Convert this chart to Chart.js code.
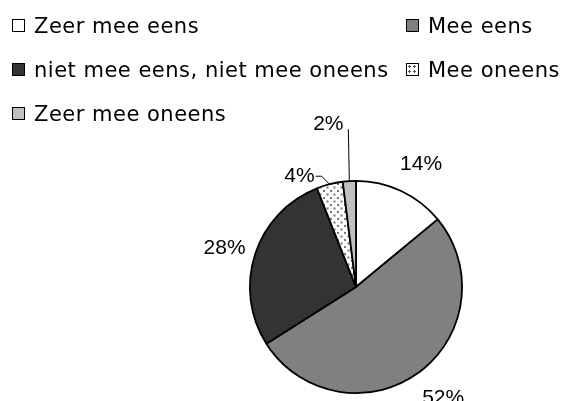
<!DOCTYPE html>
<html>
<head>
<meta charset="utf-8">
<script src="https://cdn.jsdelivr.net/npm/chart.js@4"></script>
<style>
    html, body { margin: 0; padding: 0; background: #fff; }
    #wrap { position: relative; width: 567px; height: 401px; overflow: hidden; }
    #pieChart { position: absolute; left: 0; top: 0; }
    .leg { position: absolute; font-family: "DejaVu Sans", sans-serif; font-size: 21px; letter-spacing: 0.5px;
           color: #000; white-space: nowrap; line-height: 24px; }
    .leg .box { position: absolute; left: -22px; top: 5px; width: 11px; height: 11px; border: 1.5px solid #000; }
</style>
</head>
<body>
<div id="wrap">
    <canvas id="pieChart" width="567" height="401"></canvas>
    <div id="legend"></div>
</div>
<script>
const categories = ['Zeer mee eens', 'Mee eens', 'niet mee eens, niet mee oneens', 'Mee oneens', 'Zeer mee oneens'];
const percentages = [14, 52, 28, 4, 2];
const sliceColors = ['#ffffff', '#808080', '#333333', 'dots', '#c0c0c0'];

// dotted fill for "Mee oneens"
function dotPattern() {
    const c = document.createElement('canvas');
    c.width = 7; c.height = 7;
    const g = c.getContext('2d');
    g.fillStyle = '#fff';
    g.fillRect(0, 0, 7, 7);
    g.fillStyle = '#777';
    g.fillRect(1, 1, 2, 2);
    g.fillRect(4.5, 4.5, 2, 2);
    return g.createPattern(c, 'repeat');
}

const fills = sliceColors.map(c => c === 'dots' ? dotPattern() : c);

// labels outside the pie, with leader lines for the small slices
const pieLabels = {
    id: 'pieLabels',
    afterDatasetsDraw(chart) {
        const ctx = chart.ctx;
        const arcs = chart.getDatasetMeta(0).data;
        ctx.save();
        ctx.font = '21px "Liberation Sans", Arial, sans-serif';
        ctx.fillStyle = '#000';
        ctx.strokeStyle = '#000';
        ctx.lineWidth = 1;
        ctx.textBaseline = 'middle';
        arcs.forEach((arc, i) => {
            const mid = (arc.startAngle + arc.endAngle) / 2;
            const r = arc.outerRadius;
            const txt = percentages[i] + '%';
            if (percentages[i] >= 5) {
                ctx.textAlign = 'center';
                const s = Math.sin(mid);
                const x = arc.x + Math.cos(mid) * (r + 34) + 6 * Math.abs(s);
                const y = arc.y + s * (r + 34) + 4 - 8 * Math.max(0, s);
                ctx.fillText(txt, x, y);
            } else if (i === 3) {
                const ex = arc.x + Math.cos(mid) * r, ey = arc.y + Math.sin(mid) * r;
                const kx = ex - 8, ky = ey - 8;
                ctx.beginPath();
                ctx.moveTo(ex, ey);
                ctx.lineTo(kx, ky);
                ctx.lineTo(kx - 6, ky);
                ctx.stroke();
                ctx.textAlign = 'right';
                ctx.fillText(txt, kx - 7, ky);
            } else {
                const ex = arc.x + Math.cos(mid) * r, ey = arc.y + Math.sin(mid) * r;
                ctx.beginPath();
                ctx.moveTo(ex, ey);
                ctx.lineTo(ex - 1, ey - 52);
                ctx.stroke();
                ctx.textAlign = 'center';
                ctx.fillText(txt, ex - 21, ey - 57);
            }
        });
        ctx.restore();
    }
};

const ctx = document.getElementById('pieChart').getContext('2d');
const pieChart = new Chart(ctx, {
    type: 'pie',
    data: {
        labels: categories,
        datasets: [{
            data: percentages,
            backgroundColor: fills,
            borderColor: '#000',
            borderWidth: 1.8
        }]
    },
    options: {
        responsive: false,
        animation: false,
        layout: { padding: { left: 249, right: 104, top: 180, bottom: 7 } },
        plugins: {
            legend: { display: false },
            tooltip: { enabled: false }
        }
    },
    plugins: [pieLabels]
});

// legend in two columns, built from the chart data
const legendPos = [[34, 14], [428, 14], [34, 58], [428, 58], [34, 102]];
const legend = document.getElementById('legend');
categories.forEach((name, i) => {
    const item = document.createElement('div');
    item.className = 'leg';
    item.style.left = legendPos[i][0] + 'px';
    item.style.top = legendPos[i][1] + 'px';
    const box = document.createElement('span');
    box.className = 'box';
    if (sliceColors[i] === 'dots') {
        box.style.background = 'radial-gradient(circle, #555 1px, transparent 1.3px) 0 0 / 5px 5px, #fff';
    } else {
        box.style.background = sliceColors[i];
    }
    item.appendChild(box);
    item.appendChild(document.createTextNode(name));
    legend.appendChild(item);
});
</script>
</body>
</html>
